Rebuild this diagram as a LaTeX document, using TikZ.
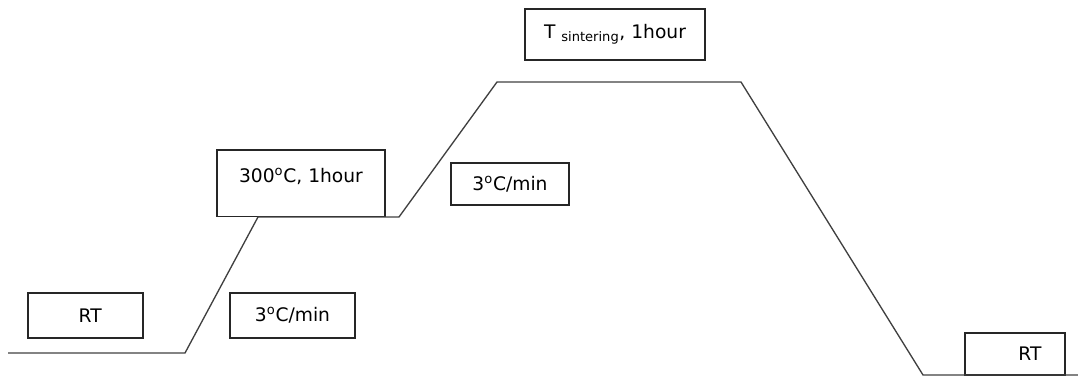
\documentclass[tikz,border=0pt]{standalone}
\usepackage{fontspec}
\setmainfont{DejaVu Sans}
\newcommand{\degc}{\textsuperscript{o}C}
\begin{document}
\begin{tikzpicture}[
      x=0.75pt,y=-0.75pt, %one unit is one pixel of the sketch
      stage/.style={draw=black!85,line width=1pt,inner sep=0pt,
                    font=\fontsize{14}{16}\selectfont},
      profile/.style={draw=black!75,line width=1pt}
    ]
    \useasboundingbox (0,0) rectangle (1078,377);
    % boxes for the steps
    \node[stage,minimum width=115*0.75pt,minimum height=45*0.75pt] (rtstart) at (85.5,315.5) {\hspace*{0.5em}RT};
    \node[stage,minimum width=125*0.75pt,minimum height=45*0.75pt] (ramplow) at (292.5,315.5) {3\degc/min};
    \node[stage,minimum width=168*0.75pt,text height=24pt,text depth=26pt] (dwell) at (301,183.5) {300\degc, 1hour};
    \node[stage,minimum width=118*0.75pt,minimum height=42*0.75pt] (ramphigh) at (510,184) {3\degc/min};
    \node[stage,minimum width=180*0.75pt,minimum height=51*0.75pt] (sinter) at (615,34.5) {T \textsubscript{sintering}, 1hour};
    \node[stage,minimum width=100*0.75pt,minimum height=42*0.75pt] (rtend) at (1015,354) {\hspace*{1.6em}RT};
    % temperature profile
    \coordinate (p0) at (8,353);
    \coordinate (p1) at (185,353);
    \coordinate (p2) at (258,217);
    \coordinate (p3) at (399,217);
    \coordinate (p4) at (497,82);
    \coordinate (p5) at (741,82);
    \coordinate (p6) at (923,375);
    \coordinate (p7) at (1078,375);
    \draw[profile] (p0) -- (p1) -- (p2) -- (p3) -- (p4) -- (p5) -- (p6) -- (p7);
\end{tikzpicture}
\end{document}
